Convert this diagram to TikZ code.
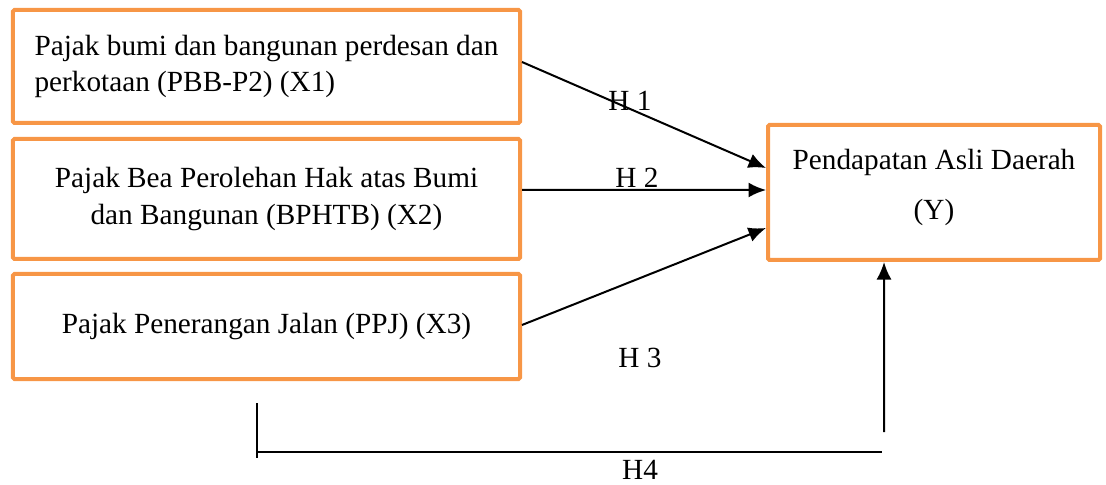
\documentclass[tikz,border=0pt]{standalone}
\usepackage{fontspec}
\setmainfont{Liberation Serif}
\usetikzlibrary{arrows.meta}
\definecolor{boxorange}{HTML}{F79646}
\tikzset{
  varbox/.style={draw=boxorange, line width=1.6pt, rounded corners=0.6pt, inner sep=0pt, font=\fontsize{11.7}{14.6}\selectfont},
  hyparrow/.style={-{Latex[length=7pt,width=6pt]}, line width=0.8pt},
  hyplabel/.style={font=\fontsize{11.7}{14}\selectfont},
}

\begin{document}
\begin{tikzpicture}[x=0.4pt,y=-0.4pt]
  \useasboundingbox (0,0) rectangle (1106,485);
  % variabel bebas
  \node[varbox, minimum width=202.8pt, minimum height=45.2pt, align=left] (x1) at (266.5,66.5) {Pajak bumi dan bangunan perdesan dan\\perkotaan (PBB-P2) (X1)};
  \node[varbox, minimum width=202.8pt, minimum height=48pt, align=center] (x2) at (266.5,199) {Pajak Bea Perolehan Hak atas Bumi\\dan Bangunan (BPHTB) (X2)};
  \node[varbox, minimum width=202.8pt, minimum height=42pt] (x3) at (266.5,326.5) {Pajak Penerangan Jalan (PPJ) (X3)};
  % variabel terikat
  \node[varbox, minimum width=132.8pt, minimum height=54pt, align=center] (y) at (934,192.5) {Pendapatan Asli Daerah\\[5.5pt](Y)\\[-8pt]};
  \draw[hyparrow] ([yshift=1.8pt]x1.east) -- ([yshift=9.8pt]y.west);
  \draw[hyparrow] ([yshift=3.6pt]x2.east) -- ([yshift=1pt]y.west);
  \draw[hyparrow] ([yshift=0.6pt]x3.east) -- ([yshift=-14.2pt]y.west);
  % H4
  \coordinate (h4a) at (257,403);
  \coordinate (h4b) at (257,458);
  \coordinate (h4c) at (257,452);
  \coordinate (h4d) at (882,452);
  \coordinate (h4e) at (884,432);
  \draw[line width=0.8pt] (h4a) -- (h4b);
  \draw[line width=0.8pt] (h4c) -- (h4d);
  \draw[hyparrow] (h4e) -- ([xshift=-20pt]y.south);
  \node[hyplabel] (h1) at (630,101) {H 1};
  \node[hyplabel] (h2) at (637,178) {H 2};
  \node[hyplabel] (h3) at (640,358) {H 3};
  \node[hyplabel] (h4) at (640,470) {H4};
\end{tikzpicture}
\end{document}
